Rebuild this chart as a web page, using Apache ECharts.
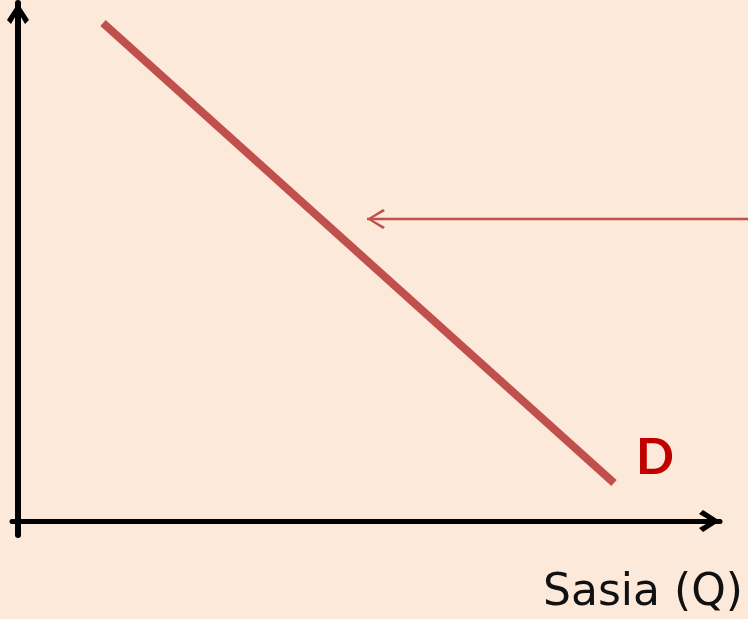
<!DOCTYPE html>
<html>
<head>
<meta charset="utf-8">
<script src="https://cdn.jsdelivr.net/npm/echarts@6/dist/echarts.min.js"></script>
<style>
html,body{margin:0;padding:0;background:#FDE9D9;}
#chart{width:748px;height:619px;}
</style>
</head>
<body>
<div id="chart"></div>
<script>
// Demand curve (Q, P) in axis units
const demandQ = [85, 596];
const demandP = [498, 38];
const demandLabel = 'D';
// Pointer arrow (from right edge towards the curve)
const pointerQ = [732, 349];
const pointerP = [302, 302];
const xAxisName = 'Sasia (Q)';

const chev = 'path://M11,0 L22,17 L18,21 L11,9 L4,21 L0,17 Z';
const thinChev = 'path://M10,0 L20,16 L18,18 L10,4 L2,18 L0,16 Z';

const demandData = demandQ.map((q, i) => [q, demandP[i]]);
const pointerData = pointerQ.map((q, i) => {
  const item = { value: [q, pointerP[i]], symbol: 'none' };
  if (i === pointerQ.length - 1) {
    item.symbol = thinChev;
    item.symbolSize = [20, 18];
    item.symbolRotate = 90;
    item.symbolOffset = [9, 0];
  }
  return item;
});

const chart = echarts.init(document.getElementById('chart'), null, { renderer: 'canvas' });
chart.setOption({
  backgroundColor: '#FDE9D9',
  animation: false,
  grid: [
    { left: 12, right: 28, top: 3, bottom: 84 },
    { left: 12, right: 0, top: 3, bottom: 84 }
  ],
  xAxis: [{
    type: 'value', min: -6, max: 702, gridIndex: 0,
    splitLine: { show: false }, axisTick: { show: false }, axisLabel: { show: false },
    axisLine: { show: true, onZero: true, symbol: ['none', chev], symbolSize: [22, 21], symbolOffset: [0, -10.5],
      lineStyle: { color: '#000', width: 5 } }
  }, {
    type: 'value', min: -6, max: 730, gridIndex: 1, show: false
  }],
  yAxis: [{
    type: 'value', min: -14, max: 518, gridIndex: 0,
    splitLine: { show: false }, axisTick: { show: false }, axisLabel: { show: false },
    axisLine: { show: true, onZero: true, symbol: ['none', chev], symbolSize: [22, 21], symbolOffset: [0, -10.5],
      lineStyle: { color: '#000', width: 6 } }
  }, {
    type: 'value', min: -14, max: 518, gridIndex: 1, show: false
  }],
  series: [
    {
      type: 'line', data: demandData, showSymbol: false, symbol: 'none', clip: false,
      lineStyle: { color: '#C0504D', width: 8, cap: 'butt' },
      endLabel: {
        show: true, formatter: demandLabel, distance: 0, offset: [22, -25],
        color: '#C00000', fontSize: 50, fontWeight: 'bold', fontFamily: 'Lato'
      }
    },
    {
      type: 'line', data: pointerData, xAxisIndex: 1, yAxisIndex: 1, clip: false, showSymbol: true,
      itemStyle: { color: '#C0504D' },
      lineStyle: { color: '#C0504D', width: 2.5 }
    }
  ],
  graphic: [{
    type: 'text', z: 10,
    style: { x: 743, y: 594, text: xAxisName, textAlign: 'right', textVerticalAlign: 'middle',
      fill: '#111', fontSize: 44, fontFamily: 'DejaVu Sans' }
  }]
});
</script>
</body>
</html>
